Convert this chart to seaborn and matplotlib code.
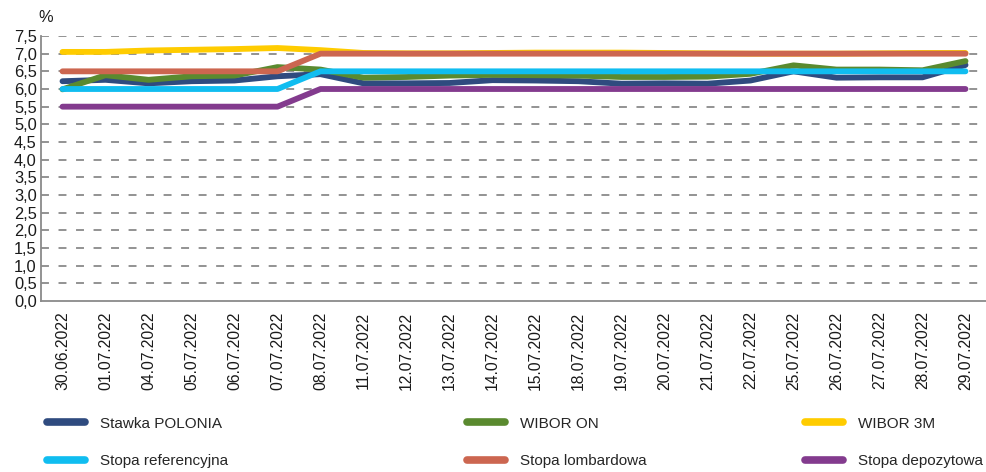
import numpy as np
import pandas as pd
import matplotlib
matplotlib.use("Agg")
import matplotlib.pyplot as plt
import seaborn as sns

dates = ["30.06.2022", "01.07.2022", "04.07.2022", "05.07.2022", "06.07.2022",
         "07.07.2022", "08.07.2022", "11.07.2022", "12.07.2022", "13.07.2022",
         "14.07.2022", "15.07.2022", "18.07.2022", "19.07.2022", "20.07.2022",
         "21.07.2022", "22.07.2022", "25.07.2022", "26.07.2022", "27.07.2022",
         "28.07.2022", "29.07.2022"]

polonia = [6.22, 6.26, 6.16, 6.22, 6.24, 6.36, 6.42, 6.16, 6.16, 6.17, 6.25,
           6.24, 6.22, 6.15, 6.16, 6.15, 6.24, 6.50, 6.32, 6.33, 6.33, 6.68]
wibor_on = [5.99, 6.39, 6.26, 6.36, 6.38, 6.62, 6.55, 6.32, 6.34, 6.38, 6.40,
            6.39, 6.38, 6.34, 6.34, 6.35, 6.43, 6.67, 6.55, 6.55, 6.53, 6.79]
wibor_3m = [7.05, 7.05, 7.09, 7.11, 7.13, 7.16, 7.10, 7.02, 7.01, 7.01, 7.02,
            7.03, 7.03, 7.03, 7.02, 7.01, 7.00, 7.00, 7.00, 7.01, 7.02, 7.02]
ref_rate = [6.0] * 6 + [6.5] * 16
lombard = [6.5] * 6 + [7.0] * 16
deposit = [5.5] * 6 + [6.0] * 16

series_names = ["Stawka POLONIA", "WIBOR ON", "WIBOR 3M",
                "Stopa referencyjna", "Stopa lombardowa", "Stopa depozytowa"]
series_values = [polonia, wibor_on, wibor_3m, ref_rate, lombard, deposit]
colors = ["#2f4b7f", "#5a8a2f", "#ffcc00", "#10bdf0", "#cc6650", "#833b8e"]

y_ticks = np.arange(0, 7.51, 0.5)
y_labels = [f"{v:.1f}".replace(".", ",") for v in y_ticks]

sns.set_style("white")
plt.rcParams["font.family"] = ["Liberation Sans Narrow", "Liberation Sans", "DejaVu Sans"]

fig = plt.figure(figsize=(9.86, 4.72), dpi=100)
ax = fig.add_axes([41 / 986, 1 - 301 / 472, 946 / 986, 265 / 472])

for name, vals, col in zip(series_names, series_values, colors):
    df = pd.DataFrame({"date": dates, "value": vals})
    sns.lineplot(data=df, x="date", y="value", ax=ax, color=col, lw=4.2,
                 solid_capstyle="round", solid_joinstyle="round",
                 label=name, legend=False, zorder=3)

ax.set_xlim(-0.5, len(dates) - 0.5)
ax.set_ylim(0, 7.5)
ax.set_yticks(y_ticks)
ax.set_yticklabels(y_labels)
ax.set_xticks(range(len(dates)))
ax.set_xticklabels(dates, rotation=90)
ax.set_xticks(np.arange(0.5, len(dates) - 1, 1), minor=True)
ax.set_xlabel("")
ax.set_ylabel("")

for v in y_ticks[1:]:
    ax.axhline(v, color="#8a8a8a", lw=1.3, dashes=(4.4, 5.3), zorder=1)

ax.tick_params(axis="y", which="major", length=0, pad=3, labelsize=11.8, colors="#1a1a1a")
ax.tick_params(axis="x", which="major", length=0, pad=7.5, labelsize=11.3, colors="#1a1a1a")
ax.tick_params(axis="x", which="minor", direction="in", length=5, width=1, color="#8a8a8a")

for side in ["top", "right"]:
    ax.spines[side].set_visible(False)
for side in ["left", "bottom"]:
    ax.spines[side].set_color("#8a8a8a")
    ax.spines[side].set_linewidth(1.3)

fig.text(46 / 986, 1 - 18 / 472, "%", ha="center", va="center", fontsize=11.8, color="#1a1a1a")

lines = ax.get_lines()[:6]
col_x = [47 / 986, 467 / 986, 805 / 986]
for c in range(3):
    hs = [lines[c], lines[c + 3]]
    ls = [series_names[c], series_names[c + 3]]
    leg = fig.legend(hs, ls, loc="center left", bbox_to_anchor=(col_x[c], 1 - 442.5 / 472),
                     frameon=False, handlelength=2.5, handletextpad=0.95,
                     labelspacing=1.55, borderpad=0, borderaxespad=0, fontsize=11)
    for lh in leg.get_lines():
        lh.set_linewidth(5.5)
        lh.set_solid_capstyle("round")

fig.savefig("out.png", dpi=100)
